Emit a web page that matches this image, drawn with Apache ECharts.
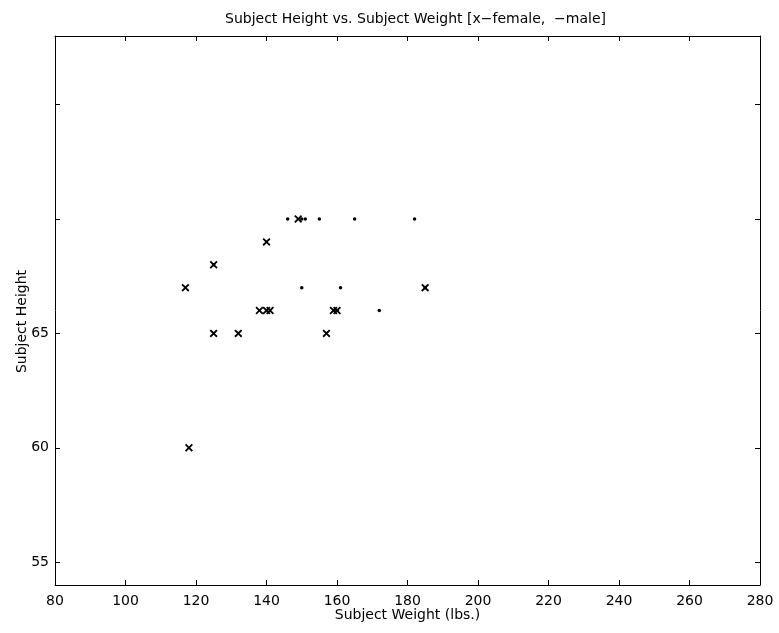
<!DOCTYPE html>
<html>
<head>
<meta charset="utf-8">
<script src="https://cdn.jsdelivr.net/npm/echarts@6/dist/echarts.min.js"></script>
<style>
  html, body { margin: 0; padding: 0; background: #fff; }
  #chart { width: 779px; height: 633px; }
</style>
</head>
<body>
<div id="chart"></div>
<script>
// ---- data ----
const titleText = 'Subject Height vs. Subject Weight [x\u2212female,  \u2212male]';
const xAxisName = 'Subject Weight (lbs.)';
const yAxisName = 'Subject Height';

const femaleWeight = [117, 118, 125, 125, 132, 138, 140, 141, 140, 149, 157, 159, 160, 185];
const femaleHeight = [67, 60, 68, 65, 65, 66, 66, 66, 69, 70, 65, 66, 66, 67];

const maleWeight = [146, 150, 151, 155, 165, 182, 150, 161, 172, 185, 125, 160];
const maleHeight = [70, 70, 70, 70, 70, 70, 67, 67, 66, 67, 68, 66];

const xMin = 80, xMax = 280, xStep = 20;
const yMin = 54, yMax = 78, yStep = 5;
const yLabelsShown = [55, 60, 65];

const femalePts = femaleWeight.map((w, i) => [w, femaleHeight[i]]);
const malePts = maleWeight.map((w, i) => [w, maleHeight[i]]);

const FONT = 'DejaVu Sans';
const crossPath = 'path://M0,1.6L1.6,0L5,3.4L8.4,0L10,1.6L6.6,5L10,8.4L8.4,10L5,6.6L1.6,10L0,8.4L3.4,5Z';

const axisLineStyle = { show: true, lineStyle: { color: '#000', width: 1 } };
const tickStyle = { show: true, inside: true, length: 5, lineStyle: { color: '#000', width: 1 } };

const chart = echarts.init(document.getElementById('chart'), null, { renderer: 'canvas' });
chart.setOption({
  backgroundColor: '#fff',
  animation: false,
  title: {
    text: titleText,
    left: 225,
    top: 12,
    padding: 0,
    textStyle: { fontFamily: FONT, fontSize: 14, fontWeight: 'normal', color: '#000' }
  },
  grid: { left: 55, right: 19, top: 36, bottom: 48, containLabel: false },
  xAxis: [
    {
      type: 'value', position: 'bottom', min: xMin, max: xMax, interval: xStep,
      axisLine: axisLineStyle, axisTick: tickStyle, splitLine: { show: false },
      axisLabel: { margin: 9, color: '#000', fontFamily: FONT, fontSize: 14 },
      name: xAxisName, nameLocation: 'middle', nameGap: 23, nameMoveOverlap: false,
      nameTextStyle: { fontFamily: FONT, fontSize: 14, color: '#000' }
    },
    {
      type: 'value', position: 'top', min: xMin, max: xMax, interval: xStep,
      axisLine: axisLineStyle, axisTick: tickStyle, splitLine: { show: false },
      axisLabel: { show: false }
    }
  ],
  yAxis: [
    {
      type: 'value', position: 'left', min: yMin, max: yMax, minInterval: yStep, maxInterval: yStep,
      axisLine: axisLineStyle, axisTick: tickStyle, splitLine: { show: false },
      axisLabel: {
        margin: 6, color: '#000', fontFamily: FONT, fontSize: 14,
        formatter: v => (yLabelsShown.indexOf(v) >= 0 ? String(v) : '')
      },
      name: yAxisName, nameLocation: 'middle', nameGap: 26, nameMoveOverlap: false,
      nameTextStyle: { fontFamily: FONT, fontSize: 14, color: '#000', padding: [0, 22, 0, 0] }
    },
    {
      type: 'value', position: 'right', min: yMin, max: yMax, minInterval: yStep, maxInterval: yStep,
      axisLine: axisLineStyle, axisTick: tickStyle, splitLine: { show: false },
      axisLabel: { show: false }
    }
  ],
  series: [
    {
      name: 'female', type: 'scatter', xAxisIndex: 0, yAxisIndex: 0,
      data: femalePts, symbol: crossPath, symbolSize: 8,
      itemStyle: { color: '#000', opacity: 1 }
    },
    {
      name: 'male', type: 'scatter', xAxisIndex: 0, yAxisIndex: 0,
      data: malePts, symbol: 'circle', symbolSize: 3.5,
      itemStyle: { color: '#000', opacity: 1 }
    }
  ]
});
</script>
</body>
</html>
